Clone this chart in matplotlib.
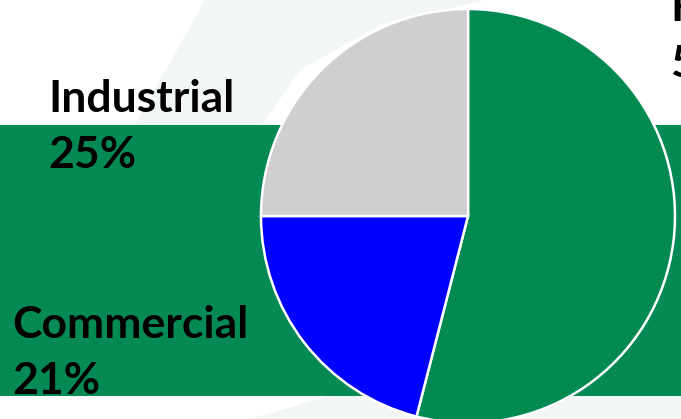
import matplotlib.pyplot as plt
from matplotlib.patches import Rectangle, Polygon

# energy use by sector (%)
sectors = ['Residential', 'Commercial', 'Industrial']
shares = [54, 21, 25]
colors = ['#038a53', '#0000ff', '#d0cece']

W, H = 681, 419
fig = plt.figure(figsize=(W / 100, H / 100), dpi=100)
fig.patch.set_facecolor('white')

def px(x, y):
    # pixel coords (from top-left) to figure fraction
    return (x / W, 1 - y / H)

# slide background decoration
tint = '#f2f7f5'
fig.patches.append(Polygon([px(205, 0), px(485, 0), px(380, 25), px(300, 70), px(262, 125), px(135, 125)],
                           closed=True, transform=fig.transFigure, facecolor=tint,
                           edgecolor='none', zorder=-5))
fig.patches.append(Polygon([px(250, 419), px(330, 396), px(681, 396), px(681, 419)],
                           closed=True, transform=fig.transFigure, facecolor=tint,
                           edgecolor='none', zorder=-5))
fig.patches.append(Rectangle(px(0, 396), 1, 271 / H, transform=fig.transFigure,
                             facecolor='#068a55', edgecolor='none', zorder=-4))

# pie
cx, cy, r = 468, 216, 207
ax = fig.add_axes([(cx - r) / W, (H - cy - r) / H, 2 * r / W, 2 * r / H])
ax.set_zorder(1)
ax.patch.set_visible(False)
ax.pie(shares, colors=colors, startangle=90, counterclock=False, radius=1,
       wedgeprops=dict(edgecolor='white', linewidth=1.8))
ax.set_xlim(-1.0, 1.0)
ax.set_ylim(-1.0, 1.0)
ax.set_aspect('equal')
ax.axis('off')

# labels
label_pos = {'Residential': (670, 21), 'Commercial': (12, 338), 'Industrial': (48, 112)}
for name, val in zip(sectors, shares):
    x, y = label_pos[name]
    fig.text(x / W, 1 - y / H, name, fontsize=32, fontweight='bold',
             family='Lato', color='black', va='baseline', ha='left', zorder=5)
    fig.text(x / W, 1 - (y + 56) / H, f'{val}%', fontsize=32, fontweight='bold',
             family='Lato', color='black', va='baseline', ha='left', zorder=5)

fig.savefig('out.png', dpi=100)
